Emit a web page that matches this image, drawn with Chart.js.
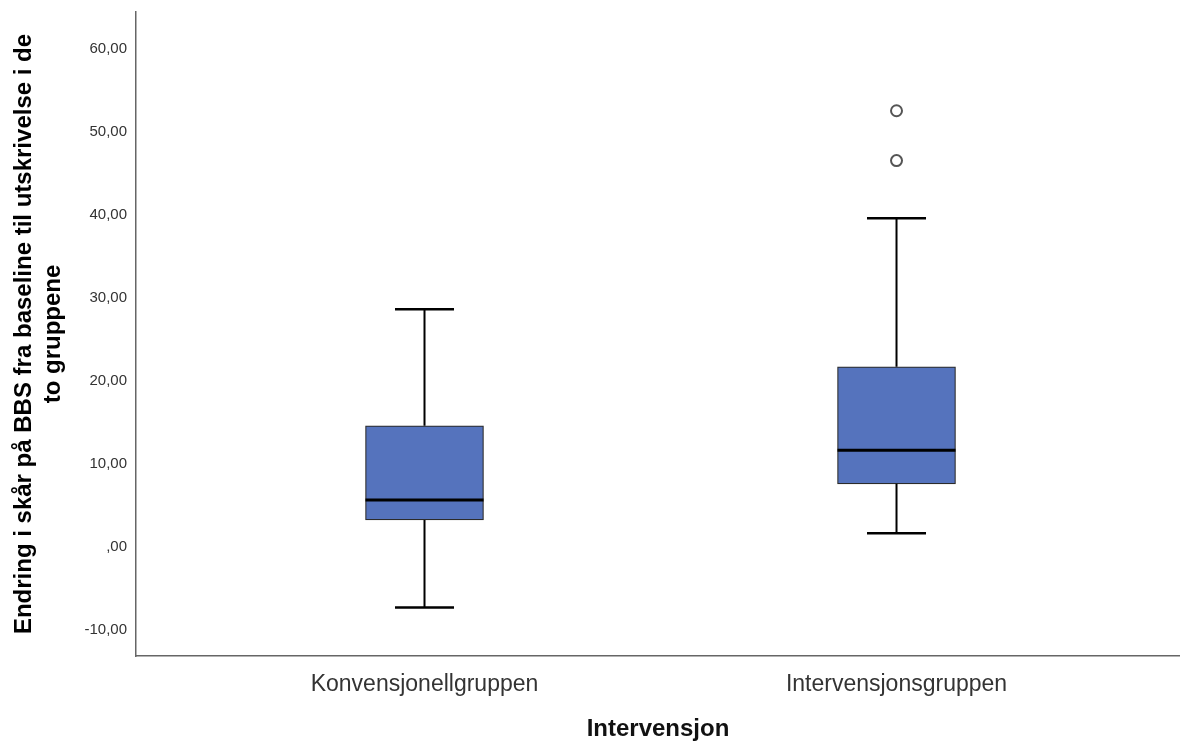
<!DOCTYPE html>
<html>
<head>
<meta charset="utf-8">
<script src="https://cdn.jsdelivr.net/npm/chart.js@4"></script>
<style>
  html, body { margin: 0; padding: 0; background: #fff; }
  #wrap { width: 1180px; height: 742px; }
</style>
</head>
<body>
<div id="wrap"><canvas id="box-plot" width="1180" height="742"></canvas></div>
<script>
const groups = ["Konvensjonellgruppen", "Intervensjonsgruppen"];
const whiskerLow = [-7.35, 1.6];
const q1 = [3.2, 7.55];
const median = [5.6, 11.6];
const q3 = [14.55, 21.65];
const whiskerHigh = [28.6, 39.55];
const outliers = [[], [46.5, 52.5]];
const yTicks = [-10, 0, 10, 20, 30, 40, 50, 60];

const capWidth = 0.125;
const boxWidth = 118;

// whiskers + median drawn on top of the floating bars
const boxExtras = {
  id: "boxExtras",
  afterDatasetsDraw(chart) {
    const { ctx, scales: { x, y } } = chart;
    ctx.save();
    ctx.strokeStyle = "#000";
    groups.forEach((g, i) => {
      const cx = x.getPixelForValue(i + 1);
      const c0 = x.getPixelForValue(i + 1 - capWidth / 2);
      const c1 = x.getPixelForValue(i + 1 + capWidth / 2);
      ctx.lineWidth = 2;
      ctx.beginPath();
      ctx.moveTo(cx, y.getPixelForValue(q3[i]));
      ctx.lineTo(cx, y.getPixelForValue(whiskerHigh[i]));
      ctx.moveTo(cx, y.getPixelForValue(q1[i]));
      ctx.lineTo(cx, y.getPixelForValue(whiskerLow[i]));
      ctx.stroke();
      ctx.lineWidth = 2.5;
      ctx.beginPath();
      ctx.moveTo(c0, y.getPixelForValue(whiskerHigh[i]));
      ctx.lineTo(c1, y.getPixelForValue(whiskerHigh[i]));
      ctx.moveTo(c0, y.getPixelForValue(whiskerLow[i]));
      ctx.lineTo(c1, y.getPixelForValue(whiskerLow[i]));
      ctx.stroke();
      ctx.lineWidth = 3;
      ctx.beginPath();
      ctx.moveTo(cx - boxWidth / 2, y.getPixelForValue(median[i]));
      ctx.lineTo(cx + boxWidth / 2, y.getPixelForValue(median[i]));
      ctx.stroke();
    });
    ctx.restore();
  }
};

const boxData = groups.map((g, i) => ({ x: i + 1, y: [q1[i], q3[i]] }));
const outlierData = [];
outliers.forEach((list, i) => list.forEach(v => outlierData.push({ x: i + 1, y: v })));

new Chart("box-plot", {
  type: "bar",
  data: {
    datasets: [
      {
        type: "scatter",
        data: outlierData,
        pointRadius: 5.5,
        pointBorderWidth: 2,
        pointBackgroundColor: "#fff",
        pointBorderColor: "#555",
        order: 0
      },
      {
        data: boxData,
        backgroundColor: "#5573bd",
        borderColor: "#2b2b2b",
        borderWidth: 1.2,
        borderSkipped: false,
        barThickness: boxWidth,
        order: 1
      }
    ]
  },
  options: {
    responsive: false,
    animation: false,
    events: [],
    layout: { autoPadding: false, padding: { top: 12, right: 0 } },
    plugins: { legend: { display: false }, tooltip: { enabled: false } },
    scales: {
      x: {
        type: "linear",
        offset: false,
        min: 0.38877,
        max: 2.6006,
        grid: { display: false, drawTicks: false },
        border: { display: true, color: "#666", width: 1.5 },
        afterBuildTicks: s => { s.ticks = groups.map((g, i) => ({ value: i + 1 })); },
        afterFit: s => { s.height = 86; s.paddingLeft = 0; s.paddingRight = 0; },
        ticks: {
          padding: 15,
          color: "#333",
          font: { family: "Liberation Sans", size: 23 },
          callback: v => groups[v - 1]
        },
        title: {
          display: true,
          text: "Intervensjon",
          color: "#111",
          font: { family: "Liberation Sans", size: 24, weight: "bold" },
          padding: { top: 10, bottom: -2 }
        }
      },
      y: {
        min: -13.19,
        max: 64.4,
        grid: { display: false, drawTicks: false },
        border: { display: true, color: "#666", width: 1.5 },
        afterBuildTicks: s => { s.ticks = yTicks.map(v => ({ value: v })); },
        afterFit: s => { s.width = 136; s.paddingTop = 0; s.paddingBottom = 0; },
        ticks: {
          padding: 9,
          color: "#333",
          font: { family: "Liberation Sans", size: 15 },
          callback: v => v === 0 ? ",00" : v.toFixed(2).replace(".", ",")
        },
        title: {
          display: true,
          text: ["Endring i skår på BBS fra baseline til utskrivelse i de", "to gruppene"],
          color: "#000",
          font: { family: "Liberation Sans", size: 24, weight: "bold" },
          padding: { top: 10, bottom: 0 }
        }
      }
    }
  },
  plugins: [boxExtras]
});
</script>
</body>
</html>
